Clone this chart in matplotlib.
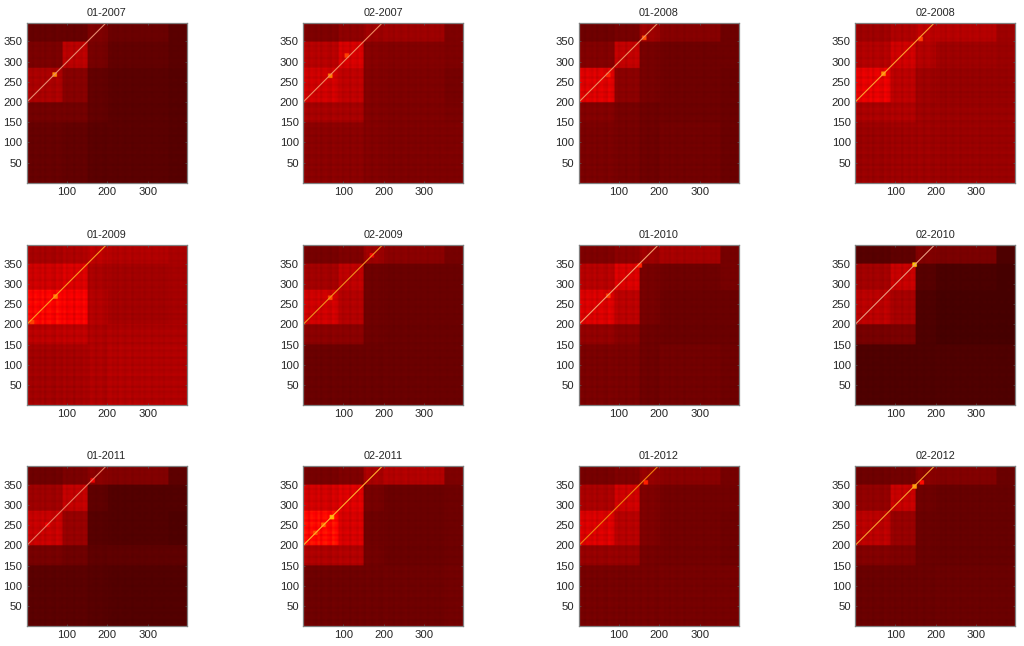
import numpy as np
import matplotlib
matplotlib.use('Agg')
import matplotlib.pyplot as plt

plt.rcParams['font.family'] = ['Liberation Sans', 'DejaVu Sans']

# panel titles, row by row
titles = ['01-2007', '02-2007', '01-2008', '02-2008',
          '01-2009', '02-2009', '01-2010', '02-2010',
          '01-2011', '02-2011', '01-2012', '02-2012']

# block borders of the matrix
col_edges = [0, 88, 150, 200, 350, 396]
row_edges = [396, 350, 285, 200, 150, 0]

# block levels, top row of blocks first
lev_0107 = [[.12, .12, .15, .125, .105], [.145, .225, .14, .115, .105], [.205, .16, .115, .105, .10], [.135, .135, .115, .105, .10], [.12, .115, .105, .105, .10]]
lev_0207 = [[.15, .17, .19, .19, .15], [.22, .26, .16, .155, .15], [.25, .23, .155, .15, .14], [.20, .20, .155, .15, .145], [.165, .165, .155, .15, .15]]
lev_0108 = [[.13, .14, .19, .16, .13], [.155, .235, .14, .13, .13], [.27, .165, .14, .13, .125], [.155, .14, .13, .13, .125], [.145, .14, .13, .135, .125]]
lev_0208 = [[.19, .21, .23, .22, .19], [.215, .25, .215, .19, .185], [.28, .225, .19, .18, .18], [.205, .21, .19, .185, .185], [.185, .19, .19, .185, .185]]
lev_0109 = [[.20, .21, .23, .215, .205], [.25, .265, .205, .195, .20], [.31, .30, .215, .195, .20], [.225, .23, .21, .21, .21], [.195, .20, .21, .215, .215]]
lev_0209 = [[.14, .15, .19, .165, .14], [.195, .23, .13, .125, .125], [.25, .215, .13, .125, .125], [.165, .165, .13, .125, .125], [.125, .125, .125, .125, .125]]
lev_0110 = [[.15, .165, .19, .20, .14], [.22, .265, .14, .13, .14], [.265, .225, .14, .125, .125], [.175, .16, .13, .125, .125], [.145, .145, .13, .135, .13]]
lev_0210 = [[.10, .11, .155, .145, .09], [.195, .24, .10, .085, .08], [.225, .20, .09, .08, .08], [.14, .145, .09, .08, .08], [.09, .09, .09, .09, .09]]
lev_0111 = [[.13, .145, .165, .155, .11], [.19, .235, .11, .095, .095], [.24, .18, .10, .095, .09], [.14, .13, .11, .11, .11], [.105, .105, .10, .095, .095]]
lev_0211 = [[.14, .15, .205, .215, .15], [.255, .27, .14, .125, .13], [.32, .26, .13, .125, .13], [.21, .215, .135, .125, .13], [.13, .13, .13, .13, .135]]
lev_0112 = [[.14, .15, .18, .165, .14], [.205, .25, .15, .135, .135], [.265, .22, .15, .135, .13], [.18, .18, .14, .135, .13], [.14, .14, .14, .14, .14]]
lev_0212 = [[.13, .135, .165, .155, .125], [.175, .24, .13, .12, .12], [.225, .18, .125, .12, .12], [.155, .15, .125, .12, .12], [.125, .125, .125, .125, .125]]
levels = [lev_0107, lev_0207, lev_0108, lev_0208, lev_0109, lev_0209,
          lev_0110, lev_0210, lev_0111, lev_0211, lev_0112, lev_0212]

# rough light and dark stripes, one value per 6 rows/columns
stripes = [.7, .2, -.6, .5, .1, -.4, .6, -.7, .3, .5, -.2, -.6,
           .8, .2, -.3, .6, -.5, .1, .4, -.8, .5, .2, -.4, .6,
           .1, -.5, .7, .3, -.6, .2, .5, -.3, -.7, .4, .6, -.2,
           .3, -.5, .6, .1, -.4, .2, .5, -.6, .3, .1, -.2, .4,
           -.3, .2, .4, -.5, .1, .3, -.2, .2, -.4, .3, .1, -.3,
           .2, .1, -.2, .3, -.1, .1]

# bright spots on the diagonal: x, y, level
hot_spots = [[(68, 268, .50)],
             [(67, 265, .48), (108, 315, .40)],
             [(161, 359, .42), (72, 267, .36)],
             [(70, 270, .50), (162, 356, .40)],
             [(70, 268, .48), (12, 205, .40)],
             [(67, 265, .42), (170, 370, .30)],
             [(72, 270, .40), (150, 345, .36)],
             [(147, 347, .58)],
             [(162, 360, .30), (50, 250, .30)],
             [(71, 269, .56), (50, 250, .46), (30, 230, .42)],
             [(165, 355, .36)],
             [(165, 355, .33), (147, 345, .52)]]

diag_colors = ['#e88a70', '#f08a60', '#ee9060', '#ffa030', '#ff9a20', '#f09020',
               '#f0a070', '#e89a80', '#e87a60', '#ffb030', '#f08010', '#f8a030']
diag_x = [1, 197]
diag_y = [200, 396]

tick_vals_x = [100, 200, 300]
tick_vals_y = [50, 100, 150, 200, 250, 300, 350]

# panel positions in pixels
lefts = [26.7, 303, 578.7, 855]
tops = [22.7, 245, 466]
size = 160
W, H = 1024, 646

fig = plt.figure(figsize=(W / 100, H / 100), dpi=100, facecolor='white')

for k, title in enumerate(titles):
    left = lefts[k % 4]
    top = tops[k // 4]
    ax = fig.add_axes([left / W, 1 - (top + size) / H, size / W, size / H])

    mat = np.zeros((396, 396))
    lev = np.array(levels[k])
    stripe = np.array(stripes)
    for r in range(5):
        y1, y0 = row_edges[r], row_edges[r + 1]
        for c in range(5):
            mat[y0:y1, col_edges[c]:col_edges[c + 1]] = lev[r, c]
    idx = np.arange(396) // 6
    # stripes show more in the bright blocks
    mat = mat * (1 + (0.01 + 0.25 * mat) * (stripe[idx][:, None] + stripe[idx][None, :]))
    for (hx, hy, hv) in hot_spots[k]:
        mat[hy - 5:hy + 6, hx - 5:hx + 6] = hv

    ax.imshow(mat, cmap='hot', vmin=0, vmax=0.87, origin='lower', aspect='auto',
              extent=[0.5, 396, 0.5, 396], interpolation='bilinear')
    ax.plot(diag_x, diag_y, color=diag_colors[k], lw=0.8, solid_capstyle='butt')
    ax.set_xlim(0.5, 396)
    ax.set_ylim(0.5, 396)

    ax.set_xticks(tick_vals_x)
    ax.set_yticks(tick_vals_y)
    ax.tick_params(direction='in', length=1.5, width=0.5, color='#555555',
                   labelsize=8.2, labelcolor='#262626', pad=3,
                   top=True, right=True)
    for s in ax.spines.values():
        s.set_color('#808080')
        s.set_linewidth(0.9)
    ax.set_title(title, fontsize=7.8, color='#262626', pad=5)

fig.savefig('out.png', dpi=100)
